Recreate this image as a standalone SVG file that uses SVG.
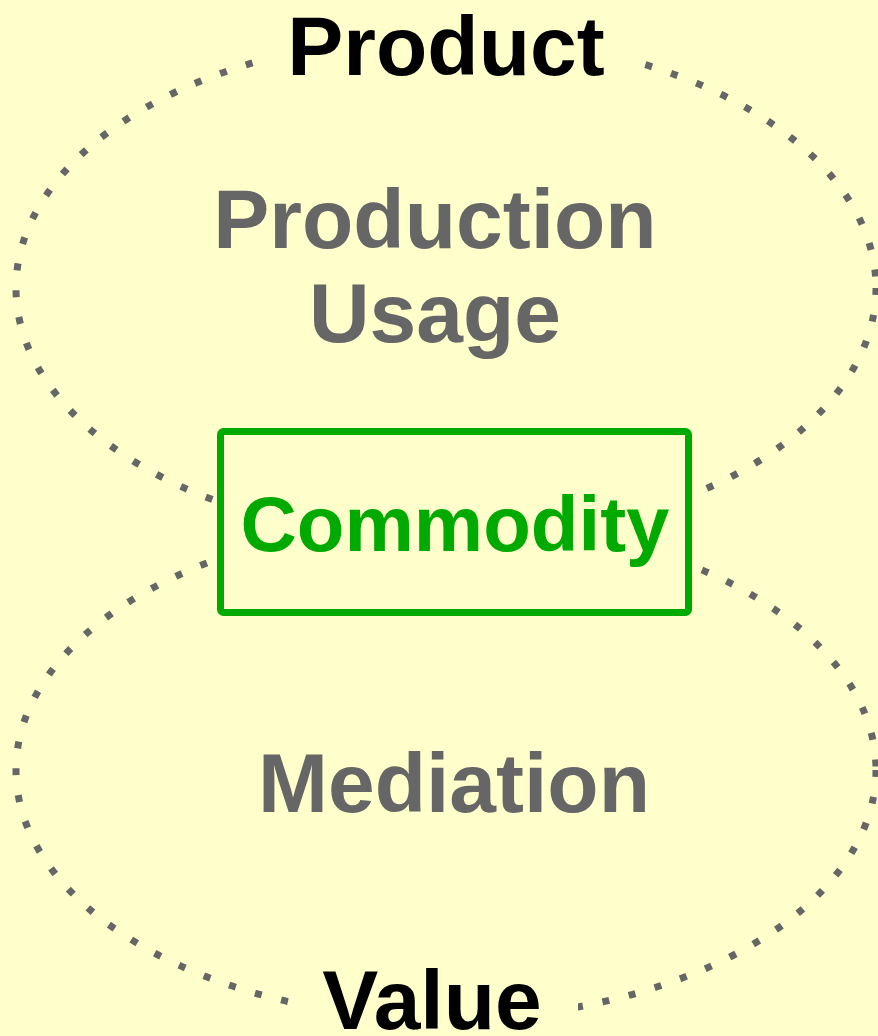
<svg xmlns="http://www.w3.org/2000/svg" width="878" height="1036" viewBox="0 0 878 1036">
<style>
.ell{fill:none;stroke:#666666;stroke-width:7;stroke-dasharray:7 20}
.lbl{font-family:"Liberation Sans",Arial,sans-serif;font-weight:bold;font-size:84px;text-anchor:middle}
.grey{fill:#666666}
.black{fill:#000000}
.green{fill:#00AA00}
.bg{fill:#FFFFCC}
</style>
<rect width="878" height="1036" fill="#FFFFCC"/>
<g id="connectors">
<ellipse id="ellipse-top" class="ell" cx="446" cy="288" rx="430" ry="252"/>
<ellipse id="ellipse-bottom" class="ell" cx="446" cy="770" rx="430" ry="249"/>
</g>
<g id="product">
<rect class="bg" x="266" y="0" width="362" height="90"/>
<text class="lbl black" x="446" y="75">Product</text>
</g>
<g id="production-usage">
<text class="lbl grey" x="435" y="248">Production</text>
<text class="lbl grey" x="435" y="342">Usage</text>
</g>
<g id="commodity">
<rect x="220.5" y="431.5" width="468" height="181" rx="3" fill="#FFFFCC" stroke="#00AA00" stroke-width="7"/>
<text class="lbl green" x="455" y="551" style="font-size:78px">Commodity</text>
</g>
<g id="mediation">
<text class="lbl grey" x="454" y="812">Mediation</text>
</g>
<g id="value">
<rect class="bg" x="292" y="960" width="286" height="76"/>
<text class="lbl black" x="432" y="1029">Value</text>
</g>
</svg>
